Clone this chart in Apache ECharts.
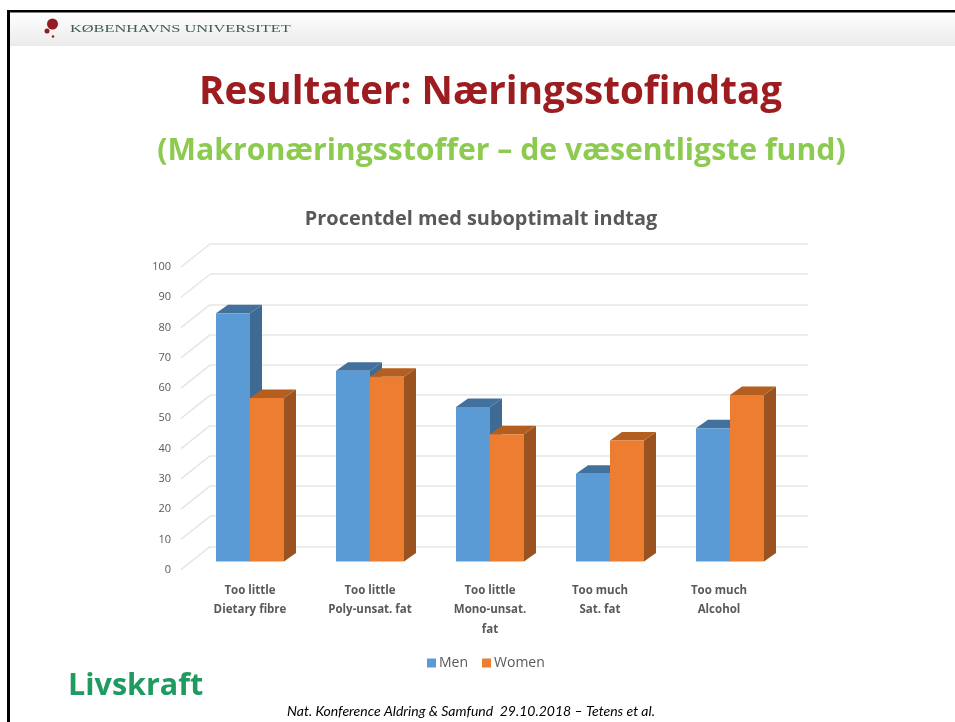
<!DOCTYPE html>
<html><head><meta charset="utf-8">
<style>html,body{margin:0;padding:0;background:#fff}#c{width:955px;height:722px}</style>
<script src="https://cdn.jsdelivr.net/npm/echarts@6/dist/echarts.min.js"></script>
</head><body><div id="c"></div>
<script>
const categories = ["Too little\nDietary fibre","Too little\nPoly-unsat. fat","Too little\nMono-unsat.\nfat","Too much\nSat. fat","Too much\nAlcohol"];
const labelShift = [0,0,0,20,22];
const men = [82,63,51,29,44];
const women = [54,61,42,40,55];
const ticks = [0,10,20,30,40,50,60,70,80,90,100];

const chart = echarts.init(document.getElementById('c'), null, {renderer:'canvas'});
const FONT = 'Open Sans';
const DEPTH_X = 12, DEPTH_Y = 8.5;
const WALL_X = 29, WALL_Y = 23;

function barRender(side, front, top, dark){
  return function(params, api){
    const cat = api.value(0), val = api.value(1);
    const base = api.coord([cat,0]), head = api.coord([cat,val]);
    const w = api.size([1,0])[0]*0.2833;
    const x0 = side<0 ? base[0]-w : base[0], x1 = x0+w;
    const yT = head[1], yB = base[1];
    return {type:'group',children:[
      {type:'polygon',shape:{points:[[x1,yB],[x1+DEPTH_X,yB-DEPTH_Y],[x1+DEPTH_X,yT-DEPTH_Y],[x1,yT]]},style:{fill:dark}},
      {type:'polygon',shape:{points:[[x0,yT],[x0+DEPTH_X,yT-DEPTH_Y],[x1+DEPTH_X,yT-DEPTH_Y],[x1,yT]]},style:{fill:top}},
      {type:'rect',shape:{x:x0,y:yT,width:w,height:yB-yT},style:{fill:front}}
    ]};
  };
}
function diag(params, api){
  const p = api.coord([0,api.value(1)]);
  const x = p[0]-api.size([1,0])[0]/2;
  return {type:'line',shape:{x1:x,y1:p[1],x2:x+WALL_X,y2:p[1]-WALL_Y},style:{stroke:'#e6e6e6',lineWidth:1.5}};
}

const option = {
  animation:false,
  backgroundColor:'#ffffff',
  title:[
    {text:'Resultater: Næringsstofindtag',left:485.5,top:69,textAlign:'center',textStyle:{fontFamily:FONT,fontSize:38.6,fontWeight:'bold',color:'#9c1c20'}},
    {text:'(Makronæringsstoffer – de væsentligste fund)',left:496.5,top:131,textAlign:'center',textStyle:{fontFamily:FONT,fontSize:30.2,fontWeight:'bold',color:'#8ccb50'}},
    {text:'Procentdel med suboptimalt indtag',left:476,top:204,textAlign:'center',textStyle:{fontFamily:FONT,fontSize:19.9,fontWeight:'bold',color:'#595959'}},
    {text:'Nat. Konference Aldring & Samfund  29.10.2018 – Tetens et al.',left:466,top:699,textAlign:'center',textStyle:{fontFamily:'Lato',fontSize:14,fontStyle:'italic',fontWeight:'normal',color:'#000'}}
  ],
  legend:{data:['Men','Women'],left:422,top:651,icon:'rect',itemWidth:9,itemHeight:9,itemGap:14,selectedMode:false,
    textStyle:{fontFamily:FONT,fontSize:14,color:'#595959',padding:[0,0,0,-2]}},
  grid:[
    {left:190,width:600,top:258.8,height:302.7},
    {left:181,width:600,top:267,height:302.7},
    {left:210,width:598,top:243.8,height:302.7}
  ],
  xAxis:[
    {type:'category',gridIndex:0,data:categories.map((c,i)=>({value:c,textStyle:{padding:[0,labelShift[i],0,0]}})),
      axisLine:{show:false},axisTick:{show:false},splitLine:{show:false},
      axisLabel:{interval:0,margin:19,fontFamily:FONT,fontSize:11.5,fontWeight:'bold',color:'#595959',lineHeight:19.5}},
    {type:'category',gridIndex:1,data:categories,show:false},
    {type:'category',gridIndex:2,data:categories,show:false}
  ],
  yAxis:[
    {type:'value',gridIndex:0,min:0,max:100,interval:10,show:false},
    {type:'value',gridIndex:1,min:0,max:100,interval:10,axisLine:{show:false},axisTick:{show:false},splitLine:{show:false},
      axisLabel:{margin:10,fontFamily:FONT,fontSize:11,color:'#595959'}},
    {type:'value',gridIndex:2,min:0,max:100,interval:10,axisLine:{show:false},axisTick:{show:false},axisLabel:{show:false},
      splitLine:{show:true,lineStyle:{color:'#e6e6e6',width:1.5}}}
  ],
  series:[
    {type:'custom',name:'wall',xAxisIndex:1,yAxisIndex:1,renderItem:diag,data:ticks.map(t=>[0,t]),encode:{x:0,y:1},silent:true,z:1},
    {type:'custom',name:'Men',xAxisIndex:0,yAxisIndex:0,itemStyle:{color:'#5b9bd5'},z:3,
      renderItem:barRender(-1,'#5b9bd5','#41719c','#3f6a94'),data:men.map((v,i)=>[i,v]),encode:{x:0,y:1}},
    {type:'custom',name:'Women',xAxisIndex:0,yAxisIndex:0,itemStyle:{color:'#ed7d31'},z:4,
      renderItem:barRender(1,'#ed7d31','#b45f1f','#9a5220'),data:women.map((v,i)=>[i,v]),encode:{x:0,y:1}}
  ],
  graphic:[
    {type:'rect',z:-1,silent:true,shape:{x:8,y:11,width:947,height:35},
      style:{fill:new echarts.graphic.LinearGradient(0,0,0,1,[{offset:0,color:'#ffffff'},{offset:1,color:'#ebebeb'}])}},
    {type:'rect',silent:true,shape:{x:7,y:10,width:3,height:712},style:{fill:'#000'}},
    {type:'rect',silent:true,shape:{x:7,y:10,width:948,height:2.5},style:{fill:'#000'}},
    {type:'circle',silent:true,shape:{cx:52.5,cy:24,r:5.5},style:{fill:'#931c20'}},
    {type:'circle',silent:true,shape:{cx:47,cy:31,r:2.5},style:{fill:'#931c20'}},
    {type:'circle',silent:true,shape:{cx:53,cy:36.5,r:1.2},style:{fill:'#931c20'}},
    {type:'text',silent:true,x:70,y:29,scaleX:1.485,style:{text:'KØBENHAVNS UNIVERSITET',fontFamily:'Liberation Serif',fontSize:11,fill:'#3f5c5a',textVerticalAlign:'middle'}},
    {type:'text',silent:true,x:68,y:686,style:{text:'Livskraft',fontFamily:FONT,fontSize:30.5,fontWeight:'bold',fill:'#1f9a60',textVerticalAlign:'middle'}}
  ]
};
chart.setOption(option);
</script></body></html>
